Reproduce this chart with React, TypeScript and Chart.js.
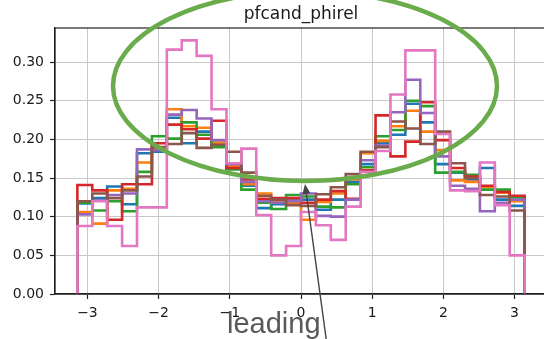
import { useEffect, useRef } from "react";
import { Chart, registerables } from "chart.js";

Chart.register(...registerables);

const TITLE = "pfcand_phirel";
const NOTE = "leading";

// Histogram binning: 30 equal bins over [-pi, pi]
const BIN_COUNT = 30;
const PHI_LO = -Math.PI;
const PHI_HI = Math.PI;

const xTickValues = [-3, -2, -1, 0, 1, 2, 3];
const yTickValues = [0, 0.05, 0.1, 0.15, 0.2, 0.25, 0.3];
const X_LIMIT = 3.4558;
const Y_MAX = 0.344;

// Normalised bin contents per sample
const seriesBlue = [
  0.117, 0.124, 0.139, 0.116, 0.182, 0.184, 0.228, 0.195, 0.21, 0.193,
  0.162, 0.14, 0.111, 0.116, 0.121, 0.122, 0.109, 0.122, 0.145, 0.168,
  0.195, 0.206, 0.246, 0.222, 0.168, 0.157, 0.148, 0.163, 0.122, 0.114,
];
const seriesOrange = [
  0.106, 0.091, 0.134, 0.136, 0.17, 0.187, 0.239, 0.217, 0.215, 0.196,
  0.166, 0.142, 0.13, 0.12, 0.118, 0.096, 0.119, 0.13, 0.148, 0.182,
  0.198, 0.217, 0.237, 0.21, 0.186, 0.147, 0.145, 0.138, 0.131, 0.12,
];
const seriesGreen = [
  0.118, 0.108, 0.12, 0.107, 0.158, 0.204, 0.201, 0.222, 0.206, 0.19,
  0.161, 0.135, 0.118, 0.11, 0.128, 0.126, 0.113, 0.112, 0.142, 0.164,
  0.204, 0.212, 0.25, 0.243, 0.157, 0.158, 0.154, 0.135, 0.135, 0.125,
];
const seriesRed = [
  0.141, 0.134, 0.096, 0.142, 0.142, 0.195, 0.219, 0.213, 0.201, 0.224,
  0.163, 0.148, 0.123, 0.124, 0.124, 0.118, 0.122, 0.133, 0.123, 0.16,
  0.231, 0.178, 0.197, 0.248, 0.199, 0.163, 0.152, 0.14, 0.132, 0.127,
];
const seriesPurple = [
  0.103, 0.121, 0.128, 0.13, 0.187, 0.186, 0.232, 0.238, 0.227, 0.199,
  0.168, 0.145, 0.12, 0.118, 0.12, 0.13, 0.101, 0.1, 0.122, 0.173,
  0.192, 0.235, 0.277, 0.234, 0.178, 0.14, 0.136, 0.107, 0.118, 0.122,
];
const seriesBrown = [
  0.12, 0.13, 0.124, 0.134, 0.152, 0.19, 0.194, 0.208, 0.189, 0.193,
  0.184, 0.157, 0.127, 0.122, 0.115, 0.114, 0.129, 0.138, 0.155, 0.184,
  0.19, 0.223, 0.214, 0.194, 0.21, 0.169, 0.15, 0.128, 0.126, 0.108,
];
const seriesPink = [
  0.088, 0.12, 0.088, 0.062, 0.112, 0.112, 0.316, 0.328, 0.308, 0.239,
  0.169, 0.188, 0.102, 0.05, 0.062, 0.106, 0.089, 0.07, 0.113, 0.158,
  0.185, 0.258, 0.315, 0.315, 0.207, 0.134, 0.133, 0.17, 0.115, 0.05,
];

const allSeries = [
  seriesBlue,
  seriesOrange,
  seriesGreen,
  seriesRed,
  seriesPurple,
  seriesBrown,
  seriesPink,
];
const seriesColors = [
  "#1f77b4",
  "#ff7f0e",
  "#2ca02c",
  "#d62728",
  "#9467bd",
  "#8c564b",
  "#e377c2",
];

const binEdges = Array.from(
  { length: BIN_COUNT + 1 },
  (_, i) => PHI_LO + (i * (PHI_HI - PHI_LO)) / BIN_COUNT
);

// Outline of a step histogram: up from zero, across every bin, back to zero.
function stepOutline(values: number[]) {
  const pts = [{ x: binEdges[0], y: 0 }];
  values.forEach((v, i) => pts.push({ x: binEdges[i], y: v }));
  pts.push({ x: binEdges[BIN_COUNT], y: 0 });
  return pts;
}

const tickFont = { family: "'DejaVu Sans', sans-serif", size: 14 };

const overlayPlugin = {
  id: "overlay",
  afterDraw(chart: Chart) {
    const { ctx, chartArea: a } = chart;
    ctx.save();

    // axes frame
    ctx.strokeStyle = "#222";
    ctx.lineWidth = 1.2;
    ctx.strokeRect(a.left, a.top, a.right - a.left, a.bottom - a.top);

    // title
    ctx.fillStyle = "#1a1a1a";
    ctx.font = "17px 'DejaVu Sans', sans-serif";
    ctx.textAlign = "center";
    ctx.textBaseline = "alphabetic";
    ctx.fillText(TITLE, (a.left + a.right) / 2, a.top - 9.5);

    // highlight ellipse around the two peaks
    ctx.beginPath();
    ctx.ellipse(305, 86, 192, 95, 0, 0, Math.PI * 2);
    ctx.strokeStyle = "#6aab4c";
    ctx.lineWidth = 4.5;
    ctx.stroke();

    // pointer arrow
    const tipX = 305;
    const tipY = 184;
    const tailX = 327;
    const tailY = 345;
    const ang = Math.atan2(tipY - tailY, tipX - tailX);
    const headLen = 10;
    const headHalf = 4;
    const baseX = tipX - headLen * Math.cos(ang);
    const baseY = tipY - headLen * Math.sin(ang);
    ctx.strokeStyle = "#444";
    ctx.fillStyle = "#444";
    ctx.lineWidth = 1.4;
    ctx.beginPath();
    ctx.moveTo(tailX, tailY);
    ctx.lineTo(baseX, baseY);
    ctx.stroke();
    ctx.beginPath();
    ctx.moveTo(tipX, tipY);
    ctx.lineTo(baseX + headHalf * Math.sin(ang), baseY - headHalf * Math.cos(ang));
    ctx.lineTo(baseX - headHalf * Math.sin(ang), baseY + headHalf * Math.cos(ang));
    ctx.closePath();
    ctx.fill();

    // note text
    ctx.fillStyle = "#595959";
    ctx.font = "29px 'Liberation Sans', Arial, sans-serif";
    ctx.textAlign = "left";
    ctx.textBaseline = "alphabetic";
    ctx.fillText(NOTE, 227, 333);

    ctx.restore();
  },
};

export default function App() {
  const canvasRef = useRef<HTMLCanvasElement | null>(null);

  useEffect(() => {
    const canvas = canvasRef.current;
    if (!canvas) return;

    const datasets = allSeries.map((values, i) => ({
      data: stepOutline(values),
      borderColor: seriesColors[i],
      backgroundColor: seriesColors[i],
      borderWidth: 2.6,
      pointRadius: 0,
      fill: false,
      tension: 0,
      stepped: "before" as const,
      order: allSeries.length - 1 - i,
    }));

    const chart = new Chart(canvas, {
      type: "line",
      data: { datasets },
      options: {
        responsive: false,
        animation: false,
        devicePixelRatio: 1,
        events: [],
        layout: { padding: { top: 28, right: 13, left: 0, bottom: 0 } },
        plugins: {
          legend: { display: false },
          tooltip: { enabled: false },
          title: { display: false },
        },
        scales: {
          x: {
            type: "linear",
            min: -X_LIMIT,
            max: X_LIMIT,
            afterBuildTicks: (scale: any) => {
              scale.ticks = xTickValues.map((v) => ({ value: v }));
            },
            afterFit: (scale: any) => {
              scale.height = 45;
            },
            grid: {
              color: "#c8c8c8",
              lineWidth: 1,
              tickLength: 5,
              tickColor: "#222",
              tickWidth: 1.2,
            },
            border: { display: true, color: "#222", width: 1.2 },
            ticks: {
              font: tickFont,
              color: "#1a1a1a",
              padding: 6,
              maxRotation: 0,
              autoSkip: false,
              callback: (v: any) => {
                const n = Number(v);
                return n < 0 ? "\u2212" + Math.abs(n) : String(n);
              },
            },
          },
          y: {
            type: "linear",
            min: 0,
            max: Y_MAX,
            afterBuildTicks: (scale: any) => {
              scale.ticks = yTickValues.map((v) => ({ value: v }));
            },
            afterFit: (scale: any) => {
              scale.width = 55;
            },
            grid: {
              color: "#c8c8c8",
              lineWidth: 1,
              tickLength: 5,
              tickColor: "#222",
              tickWidth: 1.2,
            },
            border: { display: true, color: "#222", width: 1.2 },
            ticks: {
              font: tickFont,
              color: "#1a1a1a",
              padding: 6,
              autoSkip: false,
              callback: (v: any) => Number(v).toFixed(2),
            },
          },
        },
      },
      plugins: [overlayPlugin],
    });

    return () => chart.destroy();
  }, []);

  return (
    <div
      style={{
        position: "fixed",
        left: 0,
        top: 0,
        width: 544,
        height: 339,
        overflow: "hidden",
        background: "#fff",
      }}
    >
      <canvas
        ref={canvasRef}
        width={560}
        height={339}
        style={{ display: "block", width: 560, height: 339 }}
      />
    </div>
  );
}
